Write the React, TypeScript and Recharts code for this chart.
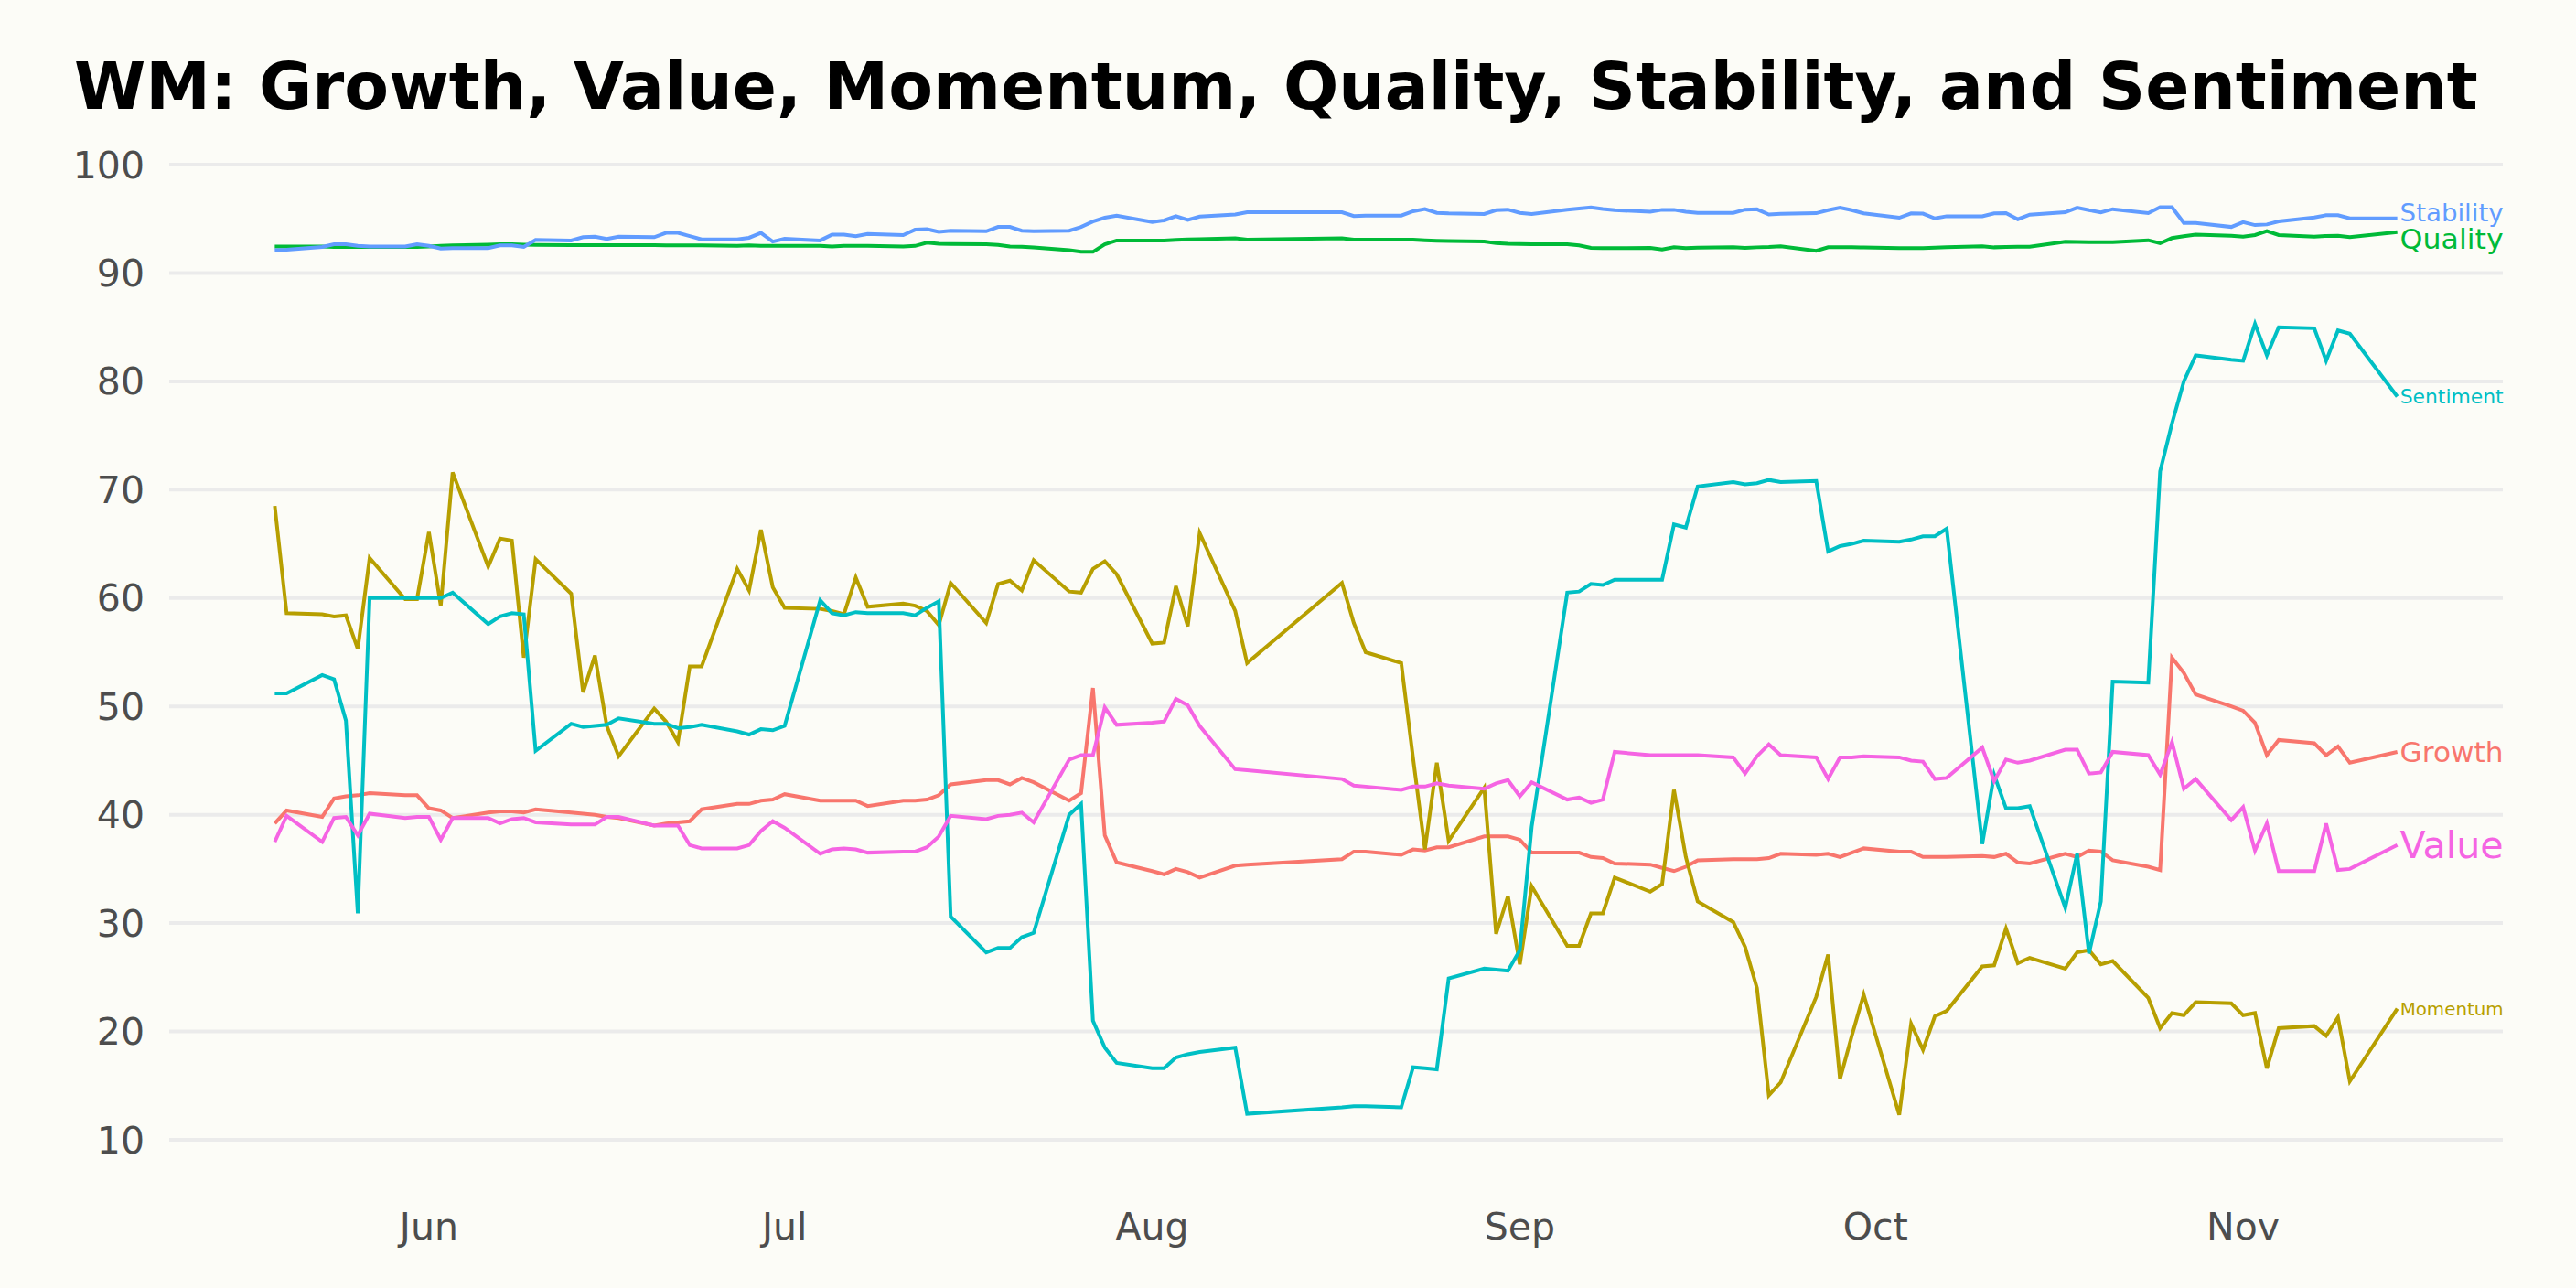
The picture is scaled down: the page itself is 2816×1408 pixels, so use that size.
import { LineChart, Line, XAxis, YAxis, CartesianGrid } from 'recharts';

// trading days (2022), MM-DD
const dates = [
  '05-19', '05-20', '05-23', '05-24', '05-25', '05-26', '05-27', '05-30', '05-31', '06-01',
  '06-02', '06-03', '06-06', '06-07', '06-08', '06-09', '06-10', '06-13', '06-14', '06-15',
  '06-16', '06-17', '06-20', '06-21', '06-22', '06-23', '06-24', '06-27', '06-28', '06-29',
  '06-30', '07-01', '07-04', '07-05', '07-06', '07-07', '07-08', '07-11', '07-12', '07-13',
  '07-14', '07-15', '07-18', '07-19', '07-20', '07-21', '07-22', '07-25', '07-26', '07-27',
  '07-28', '07-29', '08-01', '08-02', '08-03', '08-04', '08-05', '08-08', '08-09', '08-17',
  '08-18', '08-19', '08-22', '08-23', '08-24', '08-25', '08-26', '08-29', '08-30', '08-31',
  '09-01', '09-02', '09-05', '09-06', '09-07', '09-08', '09-09', '09-12', '09-13', '09-14',
  '09-15', '09-16', '09-19', '09-20', '09-21', '09-22', '09-23', '09-26', '09-27', '09-28',
  '09-29', '09-30', '10-03', '10-04', '10-05', '10-06', '10-07', '10-10', '10-11', '10-12',
  '10-13', '10-14', '10-17', '10-18', '10-19', '10-20', '10-21', '10-24', '10-25', '10-26',
  '10-27', '10-28', '10-31', '11-01', '11-02', '11-03', '11-04', '11-07', '11-08', '11-09',
  '11-10', '11-14',
];

const growth = [
  39.2, 40.4, 39.8, 41.5, 41.7, 41.8, 42.0, 41.8, 41.8, 40.6,
  40.4, 39.7, 40.2, 40.3, 40.3, 40.2, 40.5, 40.2, 40.1, 40.0,
  39.8, 39.7, 39.0, 39.2, 39.3, 39.4, 40.5, 41.0, 41.0, 41.3,
  41.4, 41.9, 41.3, 41.3, 41.3, 41.3, 40.8, 41.3, 41.3, 41.4,
  41.8, 42.8, 43.2, 43.2, 42.8, 43.4, 43.0, 41.3, 42.0, 51.7,
  38.1, 35.6, 34.8, 34.5, 35.0, 34.7, 34.2, 35.3, 35.4, 35.9,
  36.6, 36.6, 36.3, 36.8, 36.7, 37.0, 37.0, 38.0, 38.0, 38.0,
  37.7, 36.5, 36.5, 36.5, 36.1, 36.0, 35.5, 35.4, 35.1, 34.8,
  35.2, 35.8, 35.9, 35.9, 35.9, 36.0, 36.4, 36.3, 36.4, 36.1,
  36.5, 36.9, 36.6, 36.6, 36.1, 36.1, 36.1, 36.2, 36.1, 36.4,
  35.6, 35.5, 36.4, 36.1, 36.7, 36.6, 35.8, 35.2, 34.9, 54.5,
  53.1, 51.1, 50.0, 49.6, 48.5, 45.5, 46.9, 46.6, 45.5, 46.3,
  44.8, 45.8,
];

const value = [
  37.5, 39.9, 37.5, 39.7, 39.8, 38.1, 40.1, 39.7, 39.8, 39.8,
  37.7, 39.7, 39.7, 39.2, 39.6, 39.7, 39.3, 39.1, 39.1, 39.1,
  39.8, 39.8, 39.0, 39.0, 39.0, 37.2, 36.9, 36.9, 37.2, 38.5,
  39.4, 38.8, 36.4, 36.8, 36.9, 36.8, 36.5, 36.6, 36.6, 37.0,
  38.0, 39.9, 39.6, 39.9, 40.0, 40.2, 39.3, 45.1, 45.5, 45.5,
  49.9, 48.3, 48.5, 48.6, 50.7, 50.1, 48.2, 44.2, 44.1, 43.3,
  42.7, 42.6, 42.3, 42.6, 42.6, 42.9, 42.7, 42.4, 42.9, 43.2,
  41.7, 43.0, 41.4, 41.6, 41.1, 41.4, 45.8, 45.5, 45.5, 45.5,
  45.5, 45.5, 45.3, 43.8, 45.4, 46.5, 45.5, 45.3, 43.3, 45.3,
  45.3, 45.4, 45.3, 45.0, 44.9, 43.3, 43.4, 46.2, 43.1, 45.1,
  44.8, 45.0, 46.0, 46.0, 43.8, 43.9, 45.8, 45.5, 43.7, 46.7,
  42.4, 43.3, 39.5, 40.7, 36.7, 39.2, 34.8, 34.8, 39.2, 34.9,
  35.0, 37.2,
];

const momentum = [
  68.5, 58.6, 58.5, 58.3, 58.4, 55.3, 63.7, 59.9, 59.9, 66.1,
  59.3, 71.6, 62.9, 65.5, 65.3, 54.5, 63.6, 60.4, 51.3, 54.7,
  48.2, 45.4, 49.8, 48.6, 46.7, 53.7, 53.7, 62.7, 60.7, 66.3,
  61.0, 59.1, 59.0, 58.8, 58.5, 61.9, 59.2, 59.5, 59.3, 58.8,
  57.5, 61.4, 57.7, 61.3, 61.6, 60.7, 63.5, 60.6, 60.5, 62.7,
  63.4, 62.2, 55.8, 55.9, 61.1, 57.4, 66.0, 58.8, 54.0, 61.4,
  57.7, 55.0, 54.0, 45.2, 36.8, 44.8, 37.6, 42.5, 29.0, 32.5,
  26.2, 33.4, 27.9, 27.9, 30.9, 30.9, 34.2, 32.9, 33.6, 42.3,
  36.1, 32.0, 30.1, 27.8, 24.0, 14.1, 15.3, 23.2, 27.1, 15.6,
  19.6, 23.4, 12.3, 20.7, 18.3, 21.4, 21.9, 26.0, 26.1, 29.5,
  26.3, 26.8, 25.8, 27.3, 27.5, 26.2, 26.5, 23.1, 20.3, 21.7,
  21.5, 22.7, 22.6, 21.5, 21.7, 16.6, 20.3, 20.5, 19.6, 21.3,
  15.4, 22.1,
];

const sentiment = [
  51.2, 51.2, 52.9, 52.5, 48.7, 30.9, 60.0, 60.0, 60.0, 60.0,
  60.0, 60.5, 57.6, 58.3, 58.6, 58.5, 45.9, 48.4, 48.1, 48.2,
  48.3, 48.9, 48.4, 48.4, 48.0, 48.1, 48.3, 47.7, 47.4, 47.9,
  47.8, 48.2, 59.8, 58.6, 58.4, 58.7, 58.6, 58.6, 58.4, 59.1,
  59.7, 30.6, 27.3, 27.7, 27.7, 28.7, 29.1, 40.0, 41.0, 21.0,
  18.5, 17.1, 16.6, 16.6, 17.6, 17.9, 18.1, 18.5, 12.4, 13.0,
  13.1, 13.1, 13.0, 16.7, 16.6, 16.5, 24.9, 25.8, 25.7, 25.6,
  27.5, 38.9, 60.5, 60.6, 61.3, 61.2, 61.7, 61.7, 61.7, 66.8,
  66.5, 70.3, 70.7, 70.5, 70.6, 70.9, 70.7, 70.8, 64.3, 64.8,
  65.0, 65.3, 65.2, 65.4, 65.7, 65.7, 66.4, 37.3, 43.7, 40.6,
  40.6, 40.8, 31.4, 36.4, 27.2, 32.0, 52.3, 52.2, 71.7, 76.1,
  80.0, 82.4, 82.0, 81.9, 85.3, 82.4, 85.0, 84.9, 81.9, 84.7,
  84.4, 78.6,
];

const stability = [
  92.1, 92.15, 92.4, 92.65, 92.65, 92.5, 92.45, 92.45, 92.65, 92.5,
  92.25, 92.3, 92.3, 92.55, 92.55, 92.4, 93.05, 93.0, 93.3, 93.35,
  93.15, 93.35, 93.3, 93.7, 93.7, 93.4, 93.1, 93.1, 93.25, 93.7,
  92.9, 93.15, 93.0, 93.55, 93.55, 93.4, 93.6, 93.5, 94.0, 94.05,
  93.8, 93.9, 93.85, 94.25, 94.25, 93.9, 93.85, 93.9, 94.25, 94.75,
  95.1, 95.3, 94.7, 94.85, 95.25, 94.9, 95.2, 95.4, 95.6, 95.6,
  95.25, 95.3, 95.3, 95.7, 95.9, 95.55, 95.5, 95.45, 95.8, 95.85,
  95.55, 95.45, 95.85, 95.95, 96.05, 95.9, 95.8, 95.65, 95.83, 95.83,
  95.65, 95.55, 95.55, 95.85, 95.88, 95.4, 95.47, 95.52, 95.8, 96.03,
  95.8, 95.5, 95.1, 95.5, 95.48, 95.04, 95.24, 95.24, 95.5, 95.52,
  94.96, 95.38, 95.6, 96.03, 95.8, 95.6, 95.89, 95.52, 96.08, 96.08,
  94.62, 94.62, 94.25, 94.7, 94.42, 94.48, 94.76, 95.13, 95.33, 95.33,
  95.04, 95.04,
];

const quality = [
  92.45, 92.45, 92.45, 92.4, 92.4, 92.4, 92.4, 92.4, 92.4, 92.45,
  92.5, 92.55, 92.62, 92.65, 92.65, 92.62, 92.6, 92.58, 92.58, 92.57,
  92.57, 92.57, 92.56, 92.55, 92.55, 92.55, 92.55, 92.5, 92.55, 92.5,
  92.5, 92.5, 92.5, 92.45, 92.5, 92.5, 92.5, 92.45, 92.5, 92.8,
  92.7, 92.68, 92.65, 92.6, 92.45, 92.43, 92.35, 92.1, 91.95, 91.95,
  92.65, 93.0, 93.0, 93.0, 93.05, 93.1, 93.12, 93.2, 93.08, 93.2,
  93.08, 93.08, 93.08, 93.08, 93.02, 92.98, 92.95, 92.9, 92.75, 92.7,
  92.68, 92.65, 92.65, 92.55, 92.32, 92.3, 92.29, 92.32, 92.18, 92.37,
  92.3, 92.33, 92.37, 92.32, 92.37, 92.4, 92.46, 92.04, 92.37, 92.37,
  92.37, 92.35, 92.29, 92.29, 92.3, 92.33, 92.37, 92.46, 92.37, 92.4,
  92.42, 92.43, 92.88, 92.87, 92.85, 92.85, 92.85, 93.02, 92.74, 93.22,
  93.4, 93.55, 93.44, 93.36, 93.5, 93.86, 93.5, 93.36, 93.42, 93.44,
  93.3, 93.78,
];

const monthTicks = ['06-01', '07-01', '08-01', '09-01', '10-01', '11-01'];
const monthNames = ['Jun', 'Jul', 'Aug', 'Sep', 'Oct', 'Nov'];
const yTicks = [10, 20, 30, 40, 50, 60, 70, 80, 90, 100];

// days since Jun 1
const toDay = (md: string) => {
  const [m, d] = md.split('-').map(Number);
  return (Date.UTC(2022, m - 1, d) - Date.UTC(2022, 5, 1)) / 86400000;
};

const FONT = '"DejaVu Sans", sans-serif';

// drawn in this order (last on top), label size/offset for the end labels
const series = [
  { name: 'Growth', values: growth, color: '#F8766D', size: 31, dy: 0 },
  { name: 'Momentum', values: momentum, color: '#B79F00', size: 20, dy: 0 },
  { name: 'Quality', values: quality, color: '#00BA38', size: 30, dy: 8 },
  { name: 'Sentiment', values: sentiment, color: '#00BFC4', size: 22, dy: 0 },
  { name: 'Stability', values: stability, color: '#619CFF', size: 26, dy: -6 },
  { name: 'Value', values: value, color: '#F564E3', size: 40, dy: 0 },
];

const rows = dates.map((md, i) => {
  const row: Record<string, number> = { t: toDay(md) };
  series.forEach((s) => {
    row[s.name] = s.values[i];
  });
  return row;
});

const tickDays = monthTicks.map(toDay);

const endLabel = (name: string, color: string, size: number, dy: number) => (props: any) => {
  const { x, y, index } = props;
  if (index !== dates.length - 1) return <g />;
  return (
    <text
      x={x + 3}
      y={y + dy}
      fill={color}
      fontSize={size}
      fontFamily={FONT}
      dominantBaseline="central"
      textLength={113}
      lengthAdjust="spacingAndGlyphs"
    >
      {name}
    </text>
  );
};

export default function App() {
  return (
    <div style={{ position: 'absolute', left: 0, top: 0, width: 2816, height: 1408, background: '#FCFCF7' }}>
      <div
        style={{
          position: 'absolute',
          left: 81,
          top: 59,
          fontFamily: FONT,
          fontWeight: 'bold',
          fontSize: 71,
          lineHeight: '71px',
          color: '#000',
          whiteSpace: 'nowrap',
        }}
      >
        WM: Growth, Value, Momentum, Quality, Stability, and Sentiment
      </div>
      <LineChart width={2816} height={1408} data={rows} margin={{ top: 180, right: 80, bottom: 0, left: 0 }}>
        <CartesianGrid horizontal vertical={false} stroke="#EBEBEB" strokeWidth={4} />
        <XAxis
          dataKey="t"
          type="number"
          domain={[-21.9, 174.9]}
          ticks={tickDays}
          tickFormatter={(v: number) => monthNames[tickDays.indexOf(v)] ?? ''}
          axisLine={false}
          tickLine={false}
          tickSize={0}
          tickMargin={80}
          height={162}
          tick={{ fontSize: 41, fill: '#4D4D4D', fontFamily: FONT }}
        />
        <YAxis
          domain={[10, 100]}
          ticks={yTicks}
          axisLine={false}
          tickLine={false}
          tickSize={0}
          tickMargin={27}
          width={185}
          tick={{ fontSize: 41, fill: '#4D4D4D', fontFamily: FONT }}
        />
        {series.map((s) => (
          <Line
            key={s.name}
            dataKey={s.name}
            type="linear"
            stroke={s.color}
            strokeWidth={4}
            dot={false}
            activeDot={false}
            isAnimationActive={false}
            label={endLabel(s.name, s.color, s.size, s.dy)}
          />
        ))}
      </LineChart>
    </div>
  );
}
